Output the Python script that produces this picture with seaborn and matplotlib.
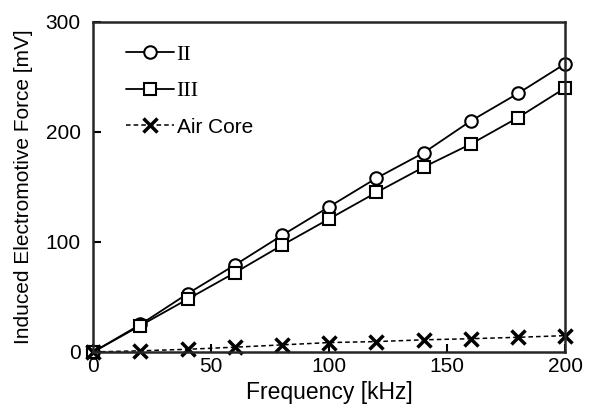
import pandas as pd
import seaborn as sns
import matplotlib.pyplot as plt

freq = [0, 20, 40, 60, 80, 100, 120, 140, 160, 180, 200]
emf_ii = [0, 25, 53, 79, 106, 132, 158, 181, 210, 235, 262]
emf_iii = [0, 24, 48, 72, 97, 121, 145, 168, 189, 213, 240]
emf_air = [0, 1, 2.4, 4.3, 6.4, 8.5, 9.4, 11, 12, 13.3, 14.8]

sns.set_style('ticks')
plt.rcParams['font.family'] = ['Liberation Sans', 'DejaVu Sans']
plt.rcParams['text.color'] = 'black'
plt.rcParams['axes.labelcolor'] = 'black'
plt.rcParams['xtick.color'] = 'black'
plt.rcParams['ytick.color'] = 'black'

df = pd.DataFrame({'f': freq, 'II': emf_ii, 'III': emf_iii, 'Air': emf_air})

fig = plt.figure(figsize=(5.98, 4.15), dpi=100)
ax = fig.add_axes([0.156, 0.152, 0.789, 0.795])

mk = dict(markersize=9, markerfacecolor='white', markeredgecolor='black',
          markeredgewidth=1.5, clip_on=False)
sns.lineplot(data=df, x='f', y='II', ax=ax, color='black', linewidth=1.3,
             marker='o', label='II', **mk)
sns.lineplot(data=df, x='f', y='III', ax=ax, color='black', linewidth=1.3,
             marker='s', label='III', **mk)
sns.lineplot(data=df, x='f', y='Air', ax=ax, color='black', linewidth=1.1,
             linestyle=(0, (3, 2)), marker='x', markersize=10, markeredgewidth=2.5,
             markeredgecolor='black', clip_on=False, label='Air Core')

ax.set_xlim(0, 200)
ax.set_ylim(0, 300)
ax.set_xticks([0, 50, 100, 150, 200])
ax.set_yticks([0, 100, 200, 300])
ax.tick_params(direction='in', length=6, width=1.5, labelsize=15)
ax.tick_params(axis='x', pad=4)
ax.tick_params(axis='y', pad=9)
for s in ax.spines.values():
    s.set_linewidth(1.8)
    s.set_visible(True)

ax.set_xlabel('Frequency [kHz]', fontsize=16.5, labelpad=3)
ax.set_ylabel('Induced Electromotive Force [mV]', fontsize=15, labelpad=9)

leg = ax.legend(loc='upper left', bbox_to_anchor=(0.051, 0.955), borderaxespad=0,
                frameon=False, fontsize=15, handlelength=2.3, handletextpad=0.15,
                labelspacing=0.8)
for t in leg.get_texts()[:2]:
    t.set_fontfamily(['Liberation Serif', 'DejaVu Serif'])
    t.set_fontsize(16)

plt.savefig('out.png', dpi=100)
